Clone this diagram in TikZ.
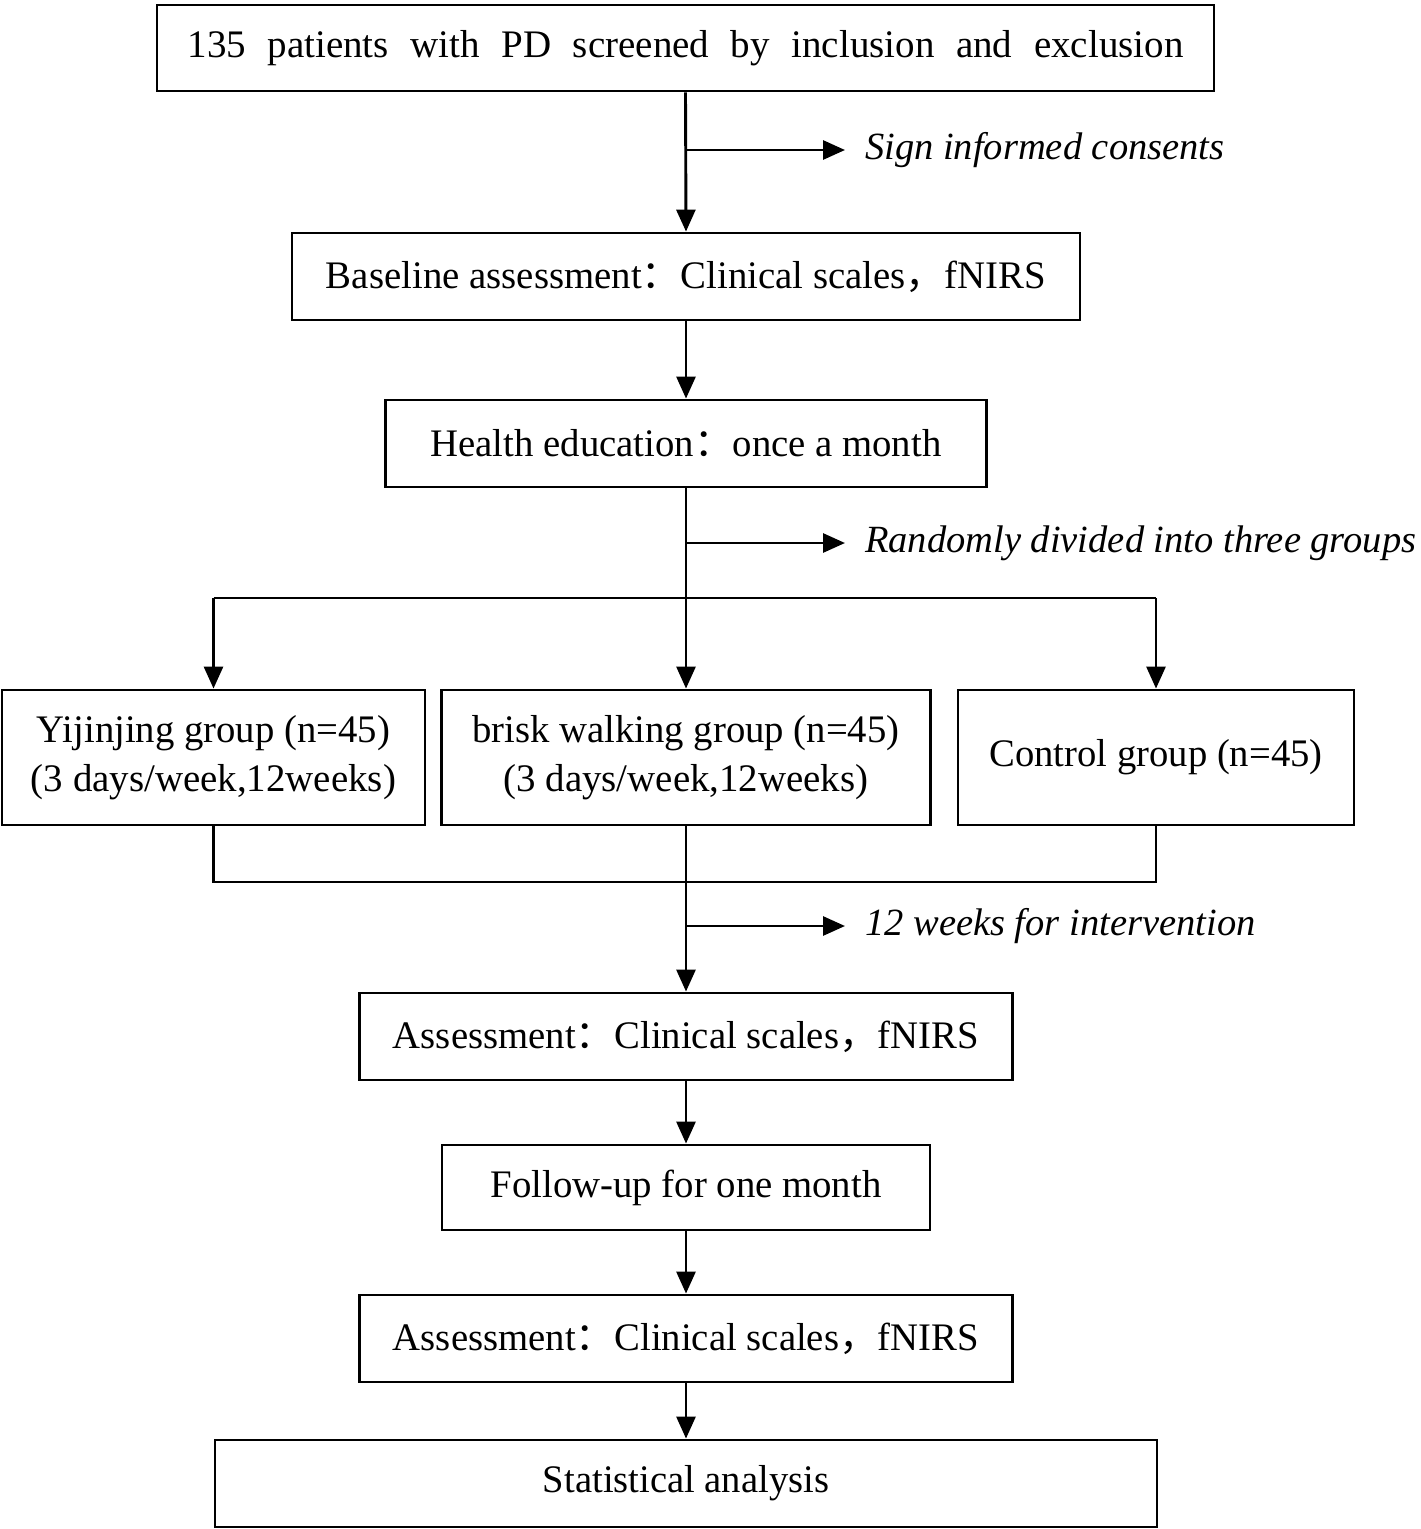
\documentclass[tikz,border=0pt]{standalone}
\usepackage{fontspec}
\setmainfont{Liberation Serif}
\newfontfamily\cjk{Noto Sans CJK SC}
\usetikzlibrary{arrows.meta}
\newcommand{\fw}[1]{{\cjk #1}}
\newcommand{\fitw}[2]{\resizebox{#1pt}{\height}{#2}}
\begin{document}
\begin{tikzpicture}[x=1pt,y=-1pt,
  box/.style={draw,line width=2.9pt,rectangle,inner sep=0pt,align=center,font=\fontsize{39}{49}\selectfont},
  lbl/.style={anchor=west,inner sep=0pt,font=\fontsize{38.5}{48}\selectfont\itshape},
  ln/.style={line width=2.9pt},
  arr/.style={line width=2.9pt,-{Triangle[length=22pt,width=19pt]}}]
\useasboundingbox (0,0) rectangle (1421,1529);
% boxes
\node[box,minimum width=1057pt,minimum height=86pt] (top) at (685.5,48) {\raisebox{-3pt}{\makebox[996pt][s]{135 patients with PD screened by inclusion and exclusion}}};
\node[box,minimum width=788pt,minimum height=87pt] (base) at (686,276.5) {\fitw{720}{Baseline assessment\fw{：}Clinical scales\fw{，}fNIRS}};
\node[box,minimum width=601pt,minimum height=87pt] (health) at (686,443.5) {\fitw{511}{Health education\fw{：}once a month}};
\node[box,minimum width=423pt,minimum height=135pt] (yij) at (213.5,757.5) {\fitw{353}{Yijinjing group (n=45)}\\\fitw{365}{(3 days/week,12weeks)}};
\node[box,minimum width=489pt,minimum height=135pt] (brisk) at (686,757.5) {\fitw{427}{brisk walking group (n=45)}\\\fitw{365}{(3 days/week,12weeks)}};
\node[box,minimum width=396pt,minimum height=135pt] (ctrl) at (1156,757.5) {\fitw{333}{Control group (n=45)}};
\node[box,minimum width=653pt,minimum height=87pt] (as1) at (686,1036.5) {\fitw{586}{Assessment\fw{：}Clinical scales\fw{，}fNIRS}};
\node[box,minimum width=488pt,minimum height=85pt] (follow) at (686,1187.5) {\fitw{391}{Follow-up for one month}};
\node[box,minimum width=653pt,minimum height=87pt] (as2) at (686,1338.5) {\fitw{586}{Assessment\fw{：}Clinical scales\fw{，}fNIRS}};
\node[box,minimum width=942pt,minimum height=87pt] (stat) at (686,1483.5) {\fitw{286}{Statistical analysis}};
% side labels
\node[lbl] (l1) at (865,150) {Sign informed consents};
\node[lbl] (l2) at (865,543) {Randomly divided into three groups};
\node[lbl] (l3) at (865,926) {12 weeks for intervention};
% coordinates
\coordinate (b1) at (686,150);
\coordinate (e1) at (845,150);
\coordinate (b2) at (686,543);
\coordinate (e2) at (845,543);
\coordinate (b3) at (686,926);
\coordinate (e3) at (845,926);
\coordinate (s) at (686,598);
\coordinate (sl) at (213.5,598);
\coordinate (sr) at (1156,598);
\coordinate (ml) at (213.5,882);
\coordinate (mr) at (1156,882);
% connectors
\draw[arr] (top.south) -- (base.north);
\draw[arr] (b1) -- (e1);
\draw[arr] (base.south) -- (health.north);
\draw[ln] (health.south) -- (s);
\draw[arr] (b2) -- (e2);
\draw[ln] (sl) -- (sr);
\draw[arr] (sl) -- (yij.north);
\draw[arr] (s) -- (brisk.north);
\draw[arr] (sr) -- (ctrl.north);
\draw[ln] (yij.south) -- (ml) -- (mr) -- (ctrl.south);
\draw[arr] (brisk.south) -- (as1.north);
\draw[arr] (b3) -- (e3);
\draw[arr] (as1.south) -- (follow.north);
\draw[arr] (follow.south) -- (as2.north);
\draw[arr] (as2.south) -- (stat.north);
\end{tikzpicture}
\end{document}
